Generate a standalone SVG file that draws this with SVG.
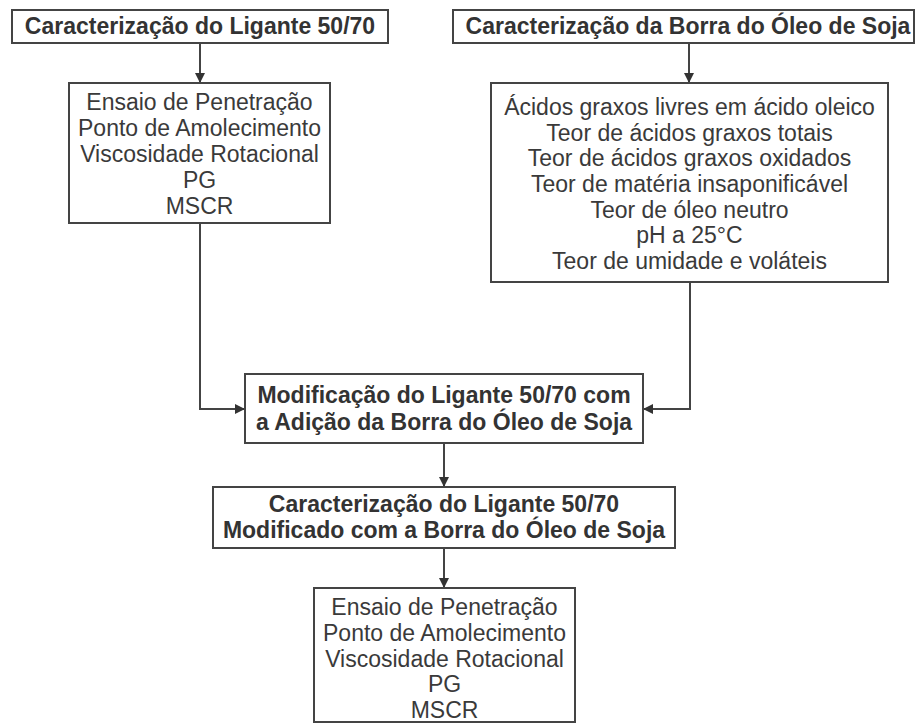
<svg xmlns="http://www.w3.org/2000/svg" width="915" height="725" viewBox="0 0 915 725">
<style>
.box{fill:#fff;stroke:#444;stroke-width:2}
.b{font-family:"Liberation Sans",Arial,sans-serif;font-weight:bold;font-size:23px;fill:#333;text-anchor:middle}
.r{font-family:"Liberation Sans",Arial,sans-serif;font-size:23px;fill:#3a3a3a;text-anchor:middle}
.c{fill:none;stroke:#444;stroke-width:2}
</style>
<defs>
<marker id="ah" viewBox="0 0 10 10" refX="10" refY="5" markerWidth="10" markerHeight="10" markerUnits="userSpaceOnUse" orient="auto">
<path d="M0,0 L10,5 L0,10 z" fill="#333"/>
</marker>
</defs>
<rect width="915" height="725" fill="#fff"/>
<g id="connectors">
<path class="c" d="M200,43 V83" marker-end="url(#ah)"/>
<path class="c" d="M689,43 V83" marker-end="url(#ah)"/>
<path class="c" d="M200,223 V409 H245" marker-end="url(#ah)"/>
<path class="c" d="M690,282 V409 H643" marker-end="url(#ah)"/>
<path class="c" d="M444,443 V487" marker-end="url(#ah)"/>
<path class="c" d="M444,548 V588" marker-end="url(#ah)"/>
</g>
<g id="n1">
<rect class="box" x="12" y="10" width="376" height="33"/>
<text class="b" x="200" y="34">Caracterização do Ligante 50/70</text>
</g>
<g id="n2">
<rect class="box" x="69" y="83" width="261" height="140"/>
<text class="r" x="199.5" y="110">Ensaio de Penetração</text>
<text class="r" x="199.5" y="136">Ponto de Amolecimento</text>
<text class="r" x="199.5" y="162">Viscosidade Rotacional</text>
<text class="r" x="199.5" y="188">PG</text>
<text class="r" x="199.5" y="214">MSCR</text>
</g>
<g id="n3">
<rect class="box" x="453" y="10" width="461" height="33"/>
<text class="b" x="688" y="34">Caracterização da Borra do Óleo de Soja</text>
</g>
<g id="n4">
<rect class="box" x="491" y="83" width="397" height="199"/>
<text class="r" x="689.5" y="115">Ácidos graxos livres em ácido oleico</text>
<text class="r" x="689.5" y="141">Teor de ácidos graxos totais</text>
<text class="r" x="689.5" y="166">Teor de ácidos graxos oxidados</text>
<text class="r" x="689.5" y="192">Teor de matéria insaponificável</text>
<text class="r" x="689.5" y="218">Teor de óleo neutro</text>
<text class="r" x="689.5" y="243">pH a 25°C</text>
<text class="r" x="689.5" y="269">Teor de umidade e voláteis</text>
</g>
<g id="n5">
<rect class="box" x="245" y="374" width="398" height="69"/>
<text class="b" x="444" y="403">Modificação do Ligante 50/70 com</text>
<text class="b" x="444" y="430">a Adição da Borra do Óleo de Soja</text>
</g>
<g id="n6">
<rect class="box" x="213" y="487" width="462" height="61"/>
<text class="b" x="444" y="512">Caracterização do Ligante 50/70</text>
<text class="b" x="444" y="538">Modificado com a Borra do Óleo de Soja</text>
</g>
<g id="n7">
<rect class="box" x="314" y="588" width="261" height="134"/>
<text class="r" x="444.5" y="615">Ensaio de Penetração</text>
<text class="r" x="444.5" y="641">Ponto de Amolecimento</text>
<text class="r" x="444.5" y="667">Viscosidade Rotacional</text>
<text class="r" x="444.5" y="692">PG</text>
<text class="r" x="444.5" y="718">MSCR</text>
</g>
</svg>
